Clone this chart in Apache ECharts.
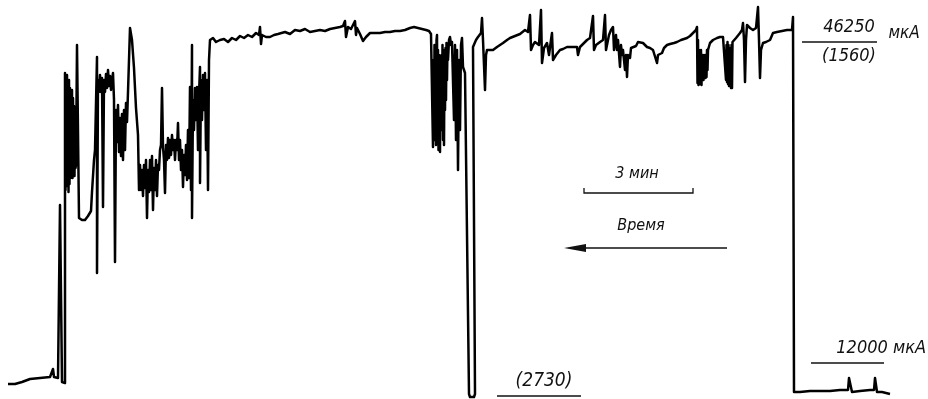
<!DOCTYPE html>
<html>
<head>
<meta charset="utf-8">
<script src="https://cdn.jsdelivr.net/npm/echarts@6/dist/echarts.min.js"></script>
<style>
html,body{margin:0;padding:0;background:#fff;}
#chart{width:928px;height:399px;}
</style>
</head>
<body>
<div id="chart"></div>
<script>
// Trace: [time position, deflection from top of strip]
var startBaseline = [[8,384],[15,384],[22,382],[30,379],[40,378],[50,377],[53,369],[54,377],[58,378]];
var firstBurst = [[60,205],[61,206],[62,382],[65,383],[65,190],[65,73],[65.5,190],[66,78],[66.5,186],[67,75],[67.5,180],[68,84],[68.5,192],[69,80],[69.5,184],[70,88],[70.5,178],[71,94],[71.5,172],[72,90],[72.5,178],[73,98],[73.5,172],[74,106],[74.5,176],[75,120],[75.5,168],[76,165],
  [77,45],[79,218],[82,220],[85,220],[88,216],[91,211],[92,192],[93,176],[94,160],[95,150],[96,148],[97,57],[97,273],[98,80],[99,92],[100,75],[101,92],[102,78],[103,207],[104,80],[105,92],[106,74],[107,88],[108,70],[109,86],[110,76],[111,90],[112,80],[113,73],[114,100],[115,262],[116,110],[117,142],[118,105],[119,152],[120,118],[121,156],[122,114],[123,160],[124,110],[125,150],[126,103],[127,122],[128,92],[130,28],[132,40],[134,68],[136,108],[138,135]];
var lowBand = [[139,190],[140,165],[141,190],[142,170],[143,196],[144,165],[145,188],[146,160],[147,218],[148,170],[149,192],[150,160],[151,190],[152,156],[153,210],[154,168],[155,190],[156,160],[157,196],[158,165],[159,170],[160,150],[161,145],[162,88],[163,147],[164,160],[165,193],[166,145],[167,160],[168,138],[169,158],[170,140],[171,155],[172,135],[173,150],[174,140],[175,160],[176,140],[177,150],[178,123],[179,160],[180,140],[181,170],[182,150],[183,187],[184,155],[185,175],[186,145],[187,180],[188,130],[189,178],[190,87],[191,190],[192,45],[192,218],[193,100],[194,130],[195,88],[196,120],[197,87],[198,150],[199,95],[200,67],[200,183],[201,80],[202,120],[203,75],[204,110],[205,73],[206,150],[207,80],[208,190],[209,60]];
var firstPlateau = [[210,40],[213,38],[216,42],[220,40],[224,39],[228,42],[232,38],[236,40],[240,36],[244,38],[248,35],[252,37],[256,33],[259,35],[260,27],[261,44],[262,35],[266,37],[270,37],[274,35],[278,34],[280,33],[285,32],[290,34],[295,30],[300,31],[305,29],[310,32],[315,31],[320,30],[325,31],[330,29],[335,28],[340,27],[343,26],[345,21],[346,37],[348,27],[351,29],[353,25],[355,21],[356,35],[357,28],[360,34],[363,41],[366,37],[370,33],[375,33],[380,33],[385,32],[390,32],[395,31],[400,31],[405,30],[410,28],[414,27],[418,28],[422,29],[426,30],[429,31],[431,34]];
var deepDip = [[433,147],[433.5,60],[434,140],[434.5,45],[435,130],[435.5,55],[436,145],[436.5,40],[437,35],[437.5,140],[438,50],[438.5,150],[439,55],[439.5,145],[440,152],[440.5,60],[441,130],[441.5,55],[442,120],[442.5,45],[443,140],[443.5,50],[444,145],[444.5,55],[445,110],[445.5,48],[446,100],[446.5,43],[447,80],[447.5,45],[448,60],[449,40],[450,37],[451,45],[452,42],[453,43],[454,120],[455,45],[456,140],[457,50],[458,170],[459,60],[460,130],[461,45],[462,38],[463,67],[465,73],[469,394],[470,397],[474,397],[475,394],[473,47]];
var secondPlateau = [[476,40],[478,37],[481,33],[482,18],[483,40],[485,90],[486,55],[487,50],[490,50],[493,50],[497,47],[500,45],[503,43],[507,40],[510,38],[515,36],[520,34],[525,30],[528,32],[530,15],[531,50],[533,45],[535,42],[537,40],[539,45],[541,10],[542,63],[544,48],[547,43],[549,55],[550,57],[551,40],[552,33],[553,60],[556,55],[560,50],[563,49],[567,47],[572,47],[577,47],[578,55],[580,47],[584,43],[587,40],[590,38],[593,16],[594,50],[596,45],[600,42],[603,40],[605,15],[606,50],[609,35],[611,30],[613,27],[614,50],[616,35],[617,50],[618,40],[620,67],[621,45],[622,55],[623,50],[625,70],[626,55],[627,77],[628,55],[630,58],[631,48],[633,50],[636,46],[638,42],[640,40],[643,43],[647,47],[650,48],[653,50],[655,52],[657,63],[658,55],[660,53],[662,53],[664,48],[667,45],[670,44],[674,43],[677,42],[681,40],[684,39],[687,38],[690,36],[693,33],[696,30],
  [697,27],[697.5,83],[698,40],[698.5,85],[699,50],[699.5,84],[700,55],[700.5,82],[701,50],[701.5,85],[702,60],[702.5,80],[703,55],[703.5,80],[704,58],[704.5,78],[705,55],[705.5,78],[706,55],[706.5,77],[707,50],[707.5,70],[708,50],[710,43],[713,40],[717,38],[720,37],[723,37],
  [725,35],[726,80],[726.5,45],[727,82],[727.5,42],[728,84],[728.5,45],[729,86],[729.5,48],[730,85],[730.5,50],[731,88],[731.5,45],[732,88],[732.5,42],[733,40],[736,38],[740,33],[742,30],[743,23],[744,40],[745,82],[746,40],[747,25],[750,28],[753,30],[756,28],[758,7],[759,40],[760,78],[761,50],[763,43],[766,42],[770,40],[773,33],[777,32],[782,31],[787,30],[792,30],[793,17]];
var endBaseline = [[794,392],[800,392],[810,391],[820,391],[830,391],[840,390],[848,390],[849,378],[851,378],[852,392],[860,391],[870,390],[874,390],[875,378],[876,378],[877,392],[882,392],[890,394]];

var labelTop = '46250', labelTopAlt = '(1560)', labelUnit = 'мкА';
var labelLow = '12000 мкА', labelDip = '(2730)', labelScale = '3 мин', labelTime = 'Время';

var trace = [].concat(startBaseline, firstBurst, lowBand, firstPlateau, deepDip, secondPlateau, endBaseline);

var chart = echarts.init(document.getElementById('chart'), null, {renderer:'canvas'});
var font = "'Liberation Sans Narrow','DejaVu Sans Condensed','Liberation Sans',sans-serif";
function txt(x, y, s, size, align) {
  return {type:'text', x:x, y:y, style:{text:s, fill:'#111', font:'italic ' + size + 'px ' + font, textAlign:align||'center', textVerticalAlign:'middle'}};
}
function ln(x1,y1,x2,y2,w){ return {type:'line', shape:{x1:x1,y1:y1,x2:x2,y2:y2}, style:{stroke:'#111', lineWidth:w||1.3}}; }

chart.setOption({
  animation:false,
  backgroundColor:'#fff',
  grid:{left:0,right:0,top:0,bottom:0},
  xAxis:{type:'value',min:0,max:928,show:false},
  yAxis:{type:'value',min:0,max:399,inverse:true,show:false},
  series:[{type:'line',data:trace,showSymbol:false,lineStyle:{color:'#000',width:2.5,join:'round'},silent:true}],
  graphic:[
    txt(849,27,labelTop,18), ln(802,42,877,42,1.3), txt(849,56,labelTopAlt,18), txt(904,34,labelUnit,17),
    txt(926,348,labelLow,18,'right'), ln(811,363,884,363,1.3),
    txt(544,381,labelDip,19), ln(497,396,581,396,1.3),
    txt(637,174,labelScale,16),
    {type:'polyline', shape:{points:[[584,188],[584,193],[693,193],[693,188]]}, style:{stroke:'#111',lineWidth:1.3,fill:null}},
    txt(641,226,labelTime,16),
    ln(575,248,727,248,1.3),
    {type:'polygon', shape:{points:[[564,248],[586,244],[586,252]]}, style:{fill:'#111'}}
  ]
});
</script>
</body>
</html>
